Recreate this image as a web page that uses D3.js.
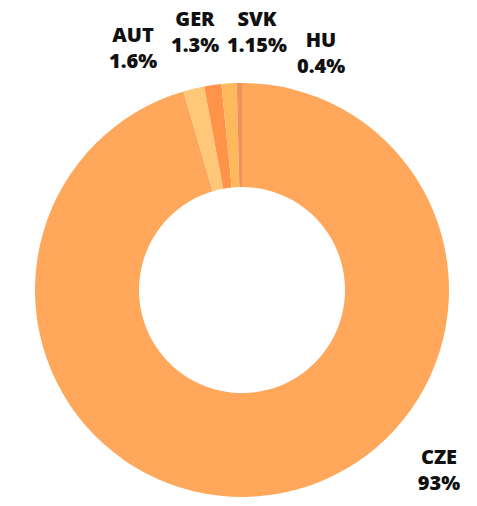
<!DOCTYPE html>
<html><head><meta charset="utf-8">
<script src="https://cdn.jsdelivr.net/npm/d3@7"></script>
<style>body{margin:0;background:#fff}svg{display:block}</style>
</head><body><svg id="c" width="477" height="506"></svg>
<script>
const categories = ["CZE", "AUT", "GER", "SVK", "HU"];
const values = [93, 1.6, 1.3, 1.15, 0.4];
const valueLabels = ["93%", "1.6%", "1.3%", "1.15%", "0.4%"];
const colors = ["#FFA85B", "#FFC878", "#FF9449", "#FFB95C", "#F2915E"];
// label anchor positions (centre x, first-line baseline)
const labelPos = [[439, 464], [133, 42], [195, 26], [257, 26], [321, 47]];

const svg = d3.select("#c");
const cx = 242, cy = 290, rOuter = 207, rInner = 103;
const data = categories.map((c, i) => ({cat: c, value: values[i], label: valueLabels[i], color: colors[i], pos: labelPos[i]}));
const pie = d3.pie().value(d => d.value).sort(null);
const arc = d3.arc().innerRadius(rInner).outerRadius(rOuter);
const g = svg.append("g").attr("transform", `translate(${cx},${cy})`);
g.selectAll("path").data(pie(data)).join("path")
  .attr("d", arc).attr("fill", d => d.data.color);

const lab = svg.selectAll("text.lab").data(data).join("text")
  .attr("class", "lab")
  .attr("text-anchor", "middle")
  .attr("font-family", "'Open Sans', sans-serif")
  .attr("font-weight", 800)
  .attr("font-size", 20)
  .attr("fill", "#111");
lab.append("tspan").attr("x", d => d.pos[0]).attr("y", d => d.pos[1]).text(d => d.cat);
lab.append("tspan").attr("x", d => d.pos[0]).attr("y", d => d.pos[1] + 26).text(d => d.label);
</script></body></html>
